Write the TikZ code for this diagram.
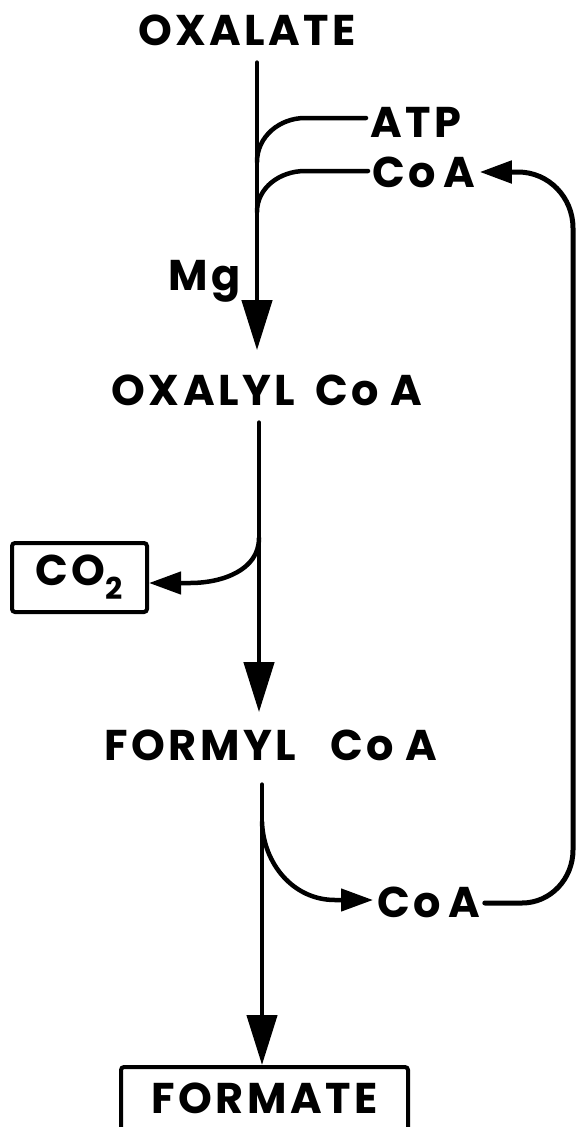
\documentclass[tikz,border=0pt]{standalone}
\usepackage{fontspec}
\setmainfont{Poppins}[LetterSpace=8]
\usetikzlibrary{positioning,arrows.meta}

\begin{document}
\begin{tikzpicture}[x=1pt,y=1pt,line width=4.5pt,line cap=round,
  every node/.style={font=\fontsize{43}{48}\selectfont\bfseries,inner sep=2pt},
  main/.style={-{Triangle[length=50pt,width=30pt]}},
  side/.style={-{Triangle[length=32pt,width=22pt]}},
  box/.style={draw,line width=4pt,rounded corners=3pt}]
\clip (0,0) rectangle (577,-1127);
\node (oxalate) [anchor=base] at (247,-45) {OXALATE};
\node (atp) [anchor=base west] at (366,-137) {ATP};
\node (coaA) [anchor=base west] at (368,-187) {Co\hspace{8pt}A};
\node (mg) [anchor=base] at (205,-290) {Mg};
\node (oxalyl) [anchor=base] at (267,-405) {OXALYL\hspace{20pt}Co\hspace{12pt}A};
\node (co2) [box,minimum width=135pt,minimum height=69pt] at (79.5,-577.5) {CO\textsubscript{2}};
\node (formyl) [anchor=base] at (271,-760) {FORMYL\hspace{34pt}Co\hspace{12pt}A};
\node (coaB) [anchor=base west] at (373,-917) {Co\hspace{8pt}A};
\node (formate) [box,anchor=north,inner ysep=16pt,text depth=12pt,
  minimum width=287pt] at (264.5,-1065) {FORMATE};
% junctions on the stem
\coordinate (j1) at (257,-162);
\coordinate (j2) at (257,-212);
\coordinate (j3) at (259,-538);
\coordinate (j4) at (262,-822);
\coordinate (atpb) at (305,-118);
\coordinate (coab) at (305,-171);
\draw[main,shorten <=13pt,shorten >=20pt] (oxalate.south -| j1) -- (oxalyl.north -| j1);
\draw (j1) to[out=90,in=180] (atpb) -- (atp.west |- atpb);
\draw (j2) to[out=90,in=180] (coab) -- (coaA.west |- coab);
\draw[main,shorten <=13pt,shorten >=13pt] (oxalyl.south -| j3) -- (formyl.north -| j3);
\draw[side] (j3) to[out=-90,in=0] (190,-583) -- (co2.east |- 0,-583);
\draw[main,shorten <=20pt] (formyl.south -| j4) -- (formate.north -| j4);
\draw[side] (j4) to[out=-88,in=180] (335,-900) -- (coaB.west |- 0,-900);
\draw[side,line width=5pt] (coaB.east |- 0,-903) -- (522,-903) to[out=0,in=-90] (573,-850)
  -- (573,-228) to[out=90,in=0] (518,-172) -- (coaA.east |- 0,-172);
\end{tikzpicture}
\end{document}
